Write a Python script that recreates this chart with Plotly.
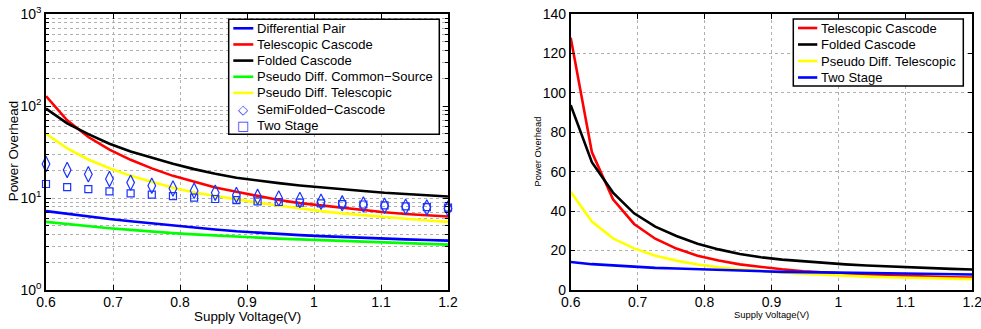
import plotly.graph_objects as go

# ---------------- data ----------------
voltage = [0.6, 0.6316, 0.6632, 0.6947, 0.7263, 0.7579, 0.7895, 0.8211, 0.8526, 0.8842,
           0.9158, 0.9474, 0.9789, 1.0105, 1.0421, 1.0737, 1.1053, 1.1368, 1.1684, 1.2]

diff_pair = [7.2, 6.7, 6.3, 5.9, 5.6, 5.3, 5.0, 4.75, 4.55, 4.35,
             4.2, 4.05, 3.95, 3.85, 3.76, 3.68, 3.61, 3.55, 3.49, 3.44]
telescopic = [128, 70, 46, 33.5, 26, 21, 17.4, 15, 13, 11.7,
              10.5, 9.5, 8.8, 8.3, 7.8, 7.4, 7.0, 6.7, 6.5, 6.3]
folded = [93.8, 64.8, 49.4, 38.9, 32.1, 27.4, 23.5, 20.6, 18.3, 16.6,
          15.4, 14.5, 13.7, 13.0, 12.4, 11.9, 11.4, 11.0, 10.7, 10.4]
pseudo_cs = [5.5, 5.2, 4.95, 4.7, 4.5, 4.3, 4.15, 4.02, 3.9, 3.8,
             3.71, 3.62, 3.55, 3.48, 3.41, 3.35, 3.29, 3.23, 3.17, 3.11]
pseudo_tel = [49.9, 34.7, 26.2, 21.1, 17.4, 14.9, 12.9, 11.5, 10.5, 9.6,
              8.9, 8.3, 7.7, 7.2, 6.8, 6.5, 6.2, 5.9, 5.7, 5.5]
semifolded = [23.4, 20.2, 18.1, 16.1, 14.7, 13.6, 12.7, 12.0, 11.4, 10.8,
              10.3, 9.9, 9.5, 9.1, 8.75, 8.5, 8.25, 8.05, 7.9, 7.7]
two_stage = [14.2, 13.1, 12.5, 11.8, 11.2, 10.9, 10.5, 10.1, 9.75, 9.5,
             9.2, 9.05, 8.9, 8.75, 8.6, 8.5, 8.3, 8.1, 7.95, 7.85]

x_ticks = [0.6, 0.7, 0.8, 0.9, 1.0, 1.1, 1.2]
x_tick_text = ["0.6", "0.7", "0.8", "0.9", "1", "1.1", "1.2"]
log_tickvals = [1, 10, 100, 1000]
log_ticktext = ["10<sup>0</sup>", "10<sup>1</sup>", "10<sup>2</sup>", "10<sup>3</sup>"]
log_minor = [2, 3, 4, 5, 6, 7, 8, 9, 20, 30, 40, 50, 60, 70, 80, 90,
             200, 300, 400, 500, 600, 700, 800, 900]
lin_tickvals = [0, 20, 40, 60, 80, 100, 120, 140]

x_title = "Supply Voltage(V)"
y_title = "Power Overhead"

left_lines = [
    ("Differential Pair", diff_pair, "#0000ff"),
    ("Telescopic Cascode", telescopic, "#ff0000"),
    ("Folded Cascode", folded, "#000000"),
    ("Pseudo Diff. Common\u2212Source", pseudo_cs, "#00ff00"),
    ("Pseudo Diff. Telescopic", pseudo_tel, "#ffff00"),
]
left_markers = [
    ("SemiFolded\u2212Cascode", semifolded, "diamond-tall-open", 11, "\u25c7"),
    ("Two Stage", two_stage, "square-open", 7, "\u25a1"),
]
right_lines = [
    ("Telescopic Cascode", telescopic, "#ff0000"),
    ("Folded Cascode", folded, "#000000"),
    ("Pseudo Diff. Telescopic", pseudo_tel, "#ffff00"),
    ("Two Stage", two_stage, "#0000ff"),
]

FONT = "Liberation Sans, Arial, sans-serif"
W = 2.6
FW, FH = 981.0, 329.0


def px(x):
    return x / FW


def py(y):
    return 1 - y / FH


fig = go.Figure()

for name, ys, col in left_lines:
    fig.add_trace(go.Scatter(x=voltage, y=ys, mode="lines", name=name, showlegend=False,
                             line=dict(color=col, width=W), xaxis="x", yaxis="y"))
for name, ys, sym, sz, _g in left_markers:
    fig.add_trace(go.Scatter(x=voltage, y=ys, mode="markers", name=name, showlegend=False,
                             marker=dict(symbol=sym, color="#1a33ff", size=sz, line=dict(width=1.2)),
                             xaxis="x", yaxis="y", cliponaxis=False))
for name, ys, col in right_lines:
    fig.add_trace(go.Scatter(x=voltage, y=ys, mode="lines", name=name, showlegend=False,
                             line=dict(color=col, width=W), xaxis="x2", yaxis="y2"))

# ---------- manual legends (MATLAB style compact boxes) ----------
shapes = []
annotations = []


def draw_legend(x0, y0, x1, y1, rows, row_y0, row_dy, line_x0, line_x1, text_x):
    shapes.append(dict(type="rect", xref="paper", yref="paper",
                       x0=px(x0), x1=px(x1), y0=py(y0), y1=py(y1),
                       line=dict(color="black", width=1.5), fillcolor="white", layer="above"))
    for i, (label, kind, col) in enumerate(rows):
        yy = row_y0 + i * row_dy
        if kind == "line":
            shapes.append(dict(type="line", xref="paper", yref="paper",
                               x0=px(line_x0), x1=px(line_x1), y0=py(yy), y1=py(yy),
                               line=dict(color=col, width=W), layer="above"))
        else:
            annotations.append(dict(xref="paper", yref="paper", x=px((line_x0 + line_x1) / 2),
                                    y=py(yy), text=kind, showarrow=False,
                                    font=dict(color="#1a33ff", size=13, family="DejaVu Sans"),
                                    xanchor="center", yanchor="middle"))
        annotations.append(dict(xref="paper", yref="paper", x=px(text_x), y=py(yy), text=label,
                                showarrow=False, font=dict(size=13, family=FONT, color="black"),
                                xanchor="left", yanchor="middle"))


left_rows = [(n, "line", c) for n, _, c in left_lines] + \
            [(n, g, None) for n, _, _, _, g in left_markers]
draw_legend(228.7, 19.3, 439.3, 134.3, left_rows, 28.3, 16.15, 233.3, 253.3, 254.5)
right_rows = [(n, "line", c) for n, _, c in right_lines]
draw_legend(793.3, 19.0, 963.3, 86.0, right_rows, 28.0, 16.5, 798.0, 817.3, 819.0)


def axis_title(text, x, y, size, angle=0):
    annotations.append(dict(xref="paper", yref="paper", x=px(x), y=py(y), text=text,
                            showarrow=False, textangle=angle, font=dict(size=size, family=FONT),
                            xanchor="center", yanchor="middle"))


axis_title(x_title, 247, 316, 13.4)
axis_title(y_title, 13.3, 151, 13.4, -90)
axis_title(x_title, 771.5, 314.5, 9.4)
axis_title(y_title, 537.7, 151.7, 9.3, -90)

grid = dict(showgrid=True, gridcolor="#b0b0b0", griddash="dot", gridwidth=1)
axline = dict(showline=True, linecolor="black", linewidth=1.5, mirror="allticks",
              ticks="inside", ticklen=5, tickcolor="black", zeroline=False, automargin=False,
              tickfont=dict(size=14), ticklabeloverflow="allow")

fig.update_layout(
    width=981, height=329,
    margin=dict(l=0, r=0, t=0, b=0),
    paper_bgcolor="white", plot_bgcolor="white",
    font=dict(family=FONT, color="black", size=14),
    showlegend=False,
    shapes=shapes, annotations=annotations,
    xaxis=dict(domain=[px(46), px(448)], range=[0.6, 1.2], tickvals=x_ticks, ticktext=x_tick_text,
               anchor="y", ticklabelstandoff=-2, **grid, **axline),
    yaxis=dict(domain=[py(290), py(14)], type="log", range=[0, 3], tickvals=log_tickvals,
               ticktext=log_ticktext, anchor="x",
               minor=dict(showgrid=True, gridcolor="#b0b0b0", griddash="dot", ticks="inside",
                          ticklen=3, tickcolor="black", tickvals=log_minor),
               **grid, **axline),
    xaxis2=dict(domain=[px(570.7), px(972.3)], range=[0.6, 1.2], tickvals=x_ticks, ticktext=x_tick_text,
                anchor="y2", ticklabelstandoff=-2, **grid, **axline),
    yaxis2=dict(domain=[py(290), py(14)], range=[0, 140], tickvals=lin_tickvals, anchor="x2",
                **grid, **axline),
)

fig.write_html("out.html")
